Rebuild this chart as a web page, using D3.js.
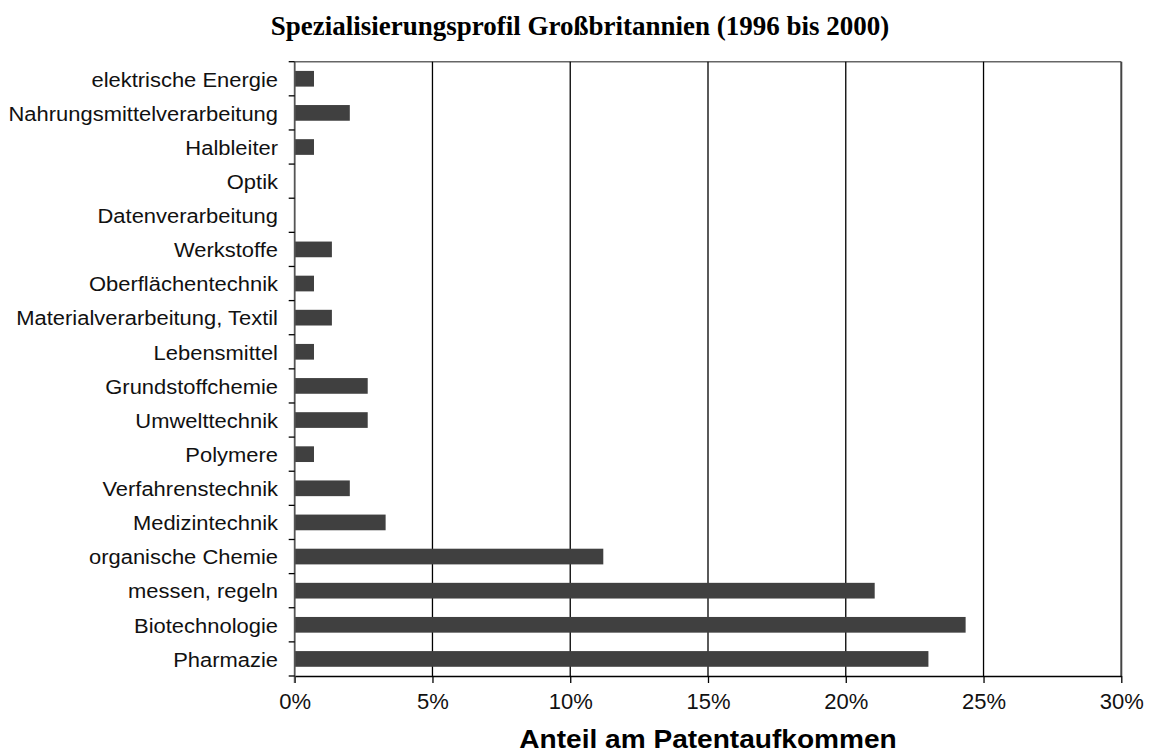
<!DOCTYPE html>
<html>
<head>
<meta charset="utf-8">
<script src="https://cdn.jsdelivr.net/npm/d3@7"></script>
<style>
  html, body { margin: 0; padding: 0; background: #fff; }
  svg { display: block; }
</style>
</head>
<body>
<svg id="chart" width="1160" height="754"></svg>
<script>
// Technology fields, top to bottom
const categories = [
  "elektrische Energie",
  "Nahrungsmittelverarbeitung",
  "Halbleiter",
  "Optik",
  "Datenverarbeitung",
  "Werkstoffe",
  "Oberflächentechnik",
  "Materialverarbeitung, Textil",
  "Lebensmittel",
  "Grundstoffchemie",
  "Umwelttechnik",
  "Polymere",
  "Verfahrenstechnik",
  "Medizintechnik",
  "organische Chemie",
  "messen, regeln",
  "Biotechnologie",
  "Pharmazie"
];

// Share of patent output, in percent
const shares = [0.7, 2.0, 0.7, 0, 0, 1.35, 0.7, 1.35, 0.7, 2.65, 2.65, 0.7, 2.0, 3.3, 11.2, 21.05, 24.35, 23.0];

const xTicks = [0, 5, 10, 15, 20, 25, 30];
const titleText = "Spezialisierungsprofil Großbritannien (1996 bis 2000)";
const xAxisTitle = "Anteil am Patentaufkommen";

const svg = d3.select("#chart");
const frame = { left: 294.7, right: 1121.3, top: 61.7, bottom: 676 };
const sans = "'Liberation Sans', Arial, sans-serif";

const x = d3.scaleLinear().domain([0, 30]).range([frame.left, frame.right]);
const y = d3.scaleBand().domain(categories).range([frame.top, frame.bottom]).paddingInner(0.54).paddingOuter(0.27);
const step = (frame.bottom - frame.top) / categories.length;

// Title
svg.append("text")
  .attr("x", 580).attr("y", 35)
  .attr("text-anchor", "middle")
  .attr("font-family", "'Liberation Serif', 'Times New Roman', serif")
  .attr("font-weight", "bold")
  .attr("font-size", 27)
  .attr("fill", "#000")
  .text(titleText);

// Top frame line
svg.append("line")
  .attr("x1", frame.left).attr("x2", frame.right)
  .attr("y1", frame.top).attr("y2", frame.top)
  .attr("stroke", "#666").attr("stroke-width", 1.5);

// Vertical gridlines
svg.append("g")
  .selectAll("line")
  .data(xTicks.filter(d => d > 0))
  .join("line")
  .attr("x1", d => x(d)).attr("x2", d => x(d))
  .attr("y1", frame.top).attr("y2", frame.bottom)
  .attr("stroke", d => d === 30 ? "#444" : "#000")
  .attr("stroke-width", d => d === 30 ? 2 : 1.3);

// Bars
svg.append("g")
  .selectAll("rect")
  .data(categories.map((c, i) => ({ c, v: shares[i] })))
  .join("rect")
  .attr("x", x(0))
  .attr("y", d => y(d.c))
  .attr("width", d => x(d.v) - x(0))
  .attr("height", y.bandwidth())
  .attr("fill", "#404040");

// X axis
const xAxis = d3.axisBottom(x)
  .tickValues(xTicks)
  .tickFormat(d => d + "%")
  .tickSize(7)
  .tickSizeOuter(0);
const gx = svg.append("g")
  .attr("transform", `translate(0,${frame.bottom})`)
  .call(xAxis);
gx.select(".domain").attr("stroke", "#000").attr("stroke-width", 1.5);
gx.selectAll(".tick line").attr("stroke", "#000").attr("stroke-width", 1.3);
gx.selectAll(".tick text")
  .attr("y", 17)
  .attr("font-family", sans)
  .attr("font-size", 22)
  .attr("fill", "#111");

// Y axis line, boundary ticks and category labels
const gy = svg.append("g");
gy.append("line")
  .attr("x1", frame.left).attr("x2", frame.left)
  .attr("y1", frame.top).attr("y2", frame.bottom + 7)
  .attr("stroke", "#555").attr("stroke-width", 1.8);
gy.selectAll("line.tick")
  .data(d3.range(categories.length + 1))
  .join("line")
  .attr("class", "tick")
  .attr("x1", frame.left - 6).attr("x2", frame.left)
  .attr("y1", i => frame.top + i * step)
  .attr("y2", i => frame.top + i * step)
  .attr("stroke", "#000").attr("stroke-width", 1.3);
gy.selectAll("text")
  .data(categories)
  .join("text")
  .attr("transform", (d, i) => `translate(278,${frame.top + (i + 0.5) * step}) scale(1.045,1)`)
  .attr("dy", "0.37em")
  .attr("text-anchor", "end")
  .attr("font-family", sans)
  .attr("font-size", 21)
  .attr("fill", "#111")
  .text(d => d);

// X axis title
svg.append("text")
  .attr("transform", "translate(708,748) scale(1.08,1)")
  .attr("text-anchor", "middle")
  .attr("font-family", sans)
  .attr("font-weight", "bold")
  .attr("font-size", 26)
  .attr("fill", "#000")
  .text(xAxisTitle);
</script>
</body>
</html>
